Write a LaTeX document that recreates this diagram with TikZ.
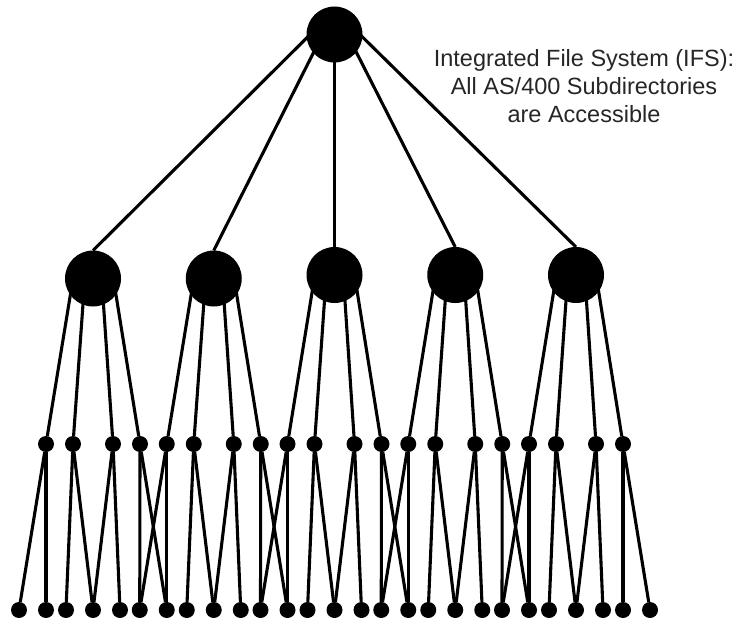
\documentclass[tikz,border=0pt]{standalone}
\usepackage{fontspec}
\setmainfont{Liberation Sans}
% Angle (in degrees, y up) at which a line coming from an apex point #1 px
% above a disc centre (radius 28 px) leaves the disc, heading towards the
% point offset by (#2, #3) px from the apex (page directions, y down).
\newcommand\trfan[3]{%
  \pgfmathsetmacro\trH{(#1)/100}%
  \pgfmathsetmacro\trX{(#2)/100}%
  \pgfmathsetmacro\trY{(#3)/100}%
  \pgfmathsetmacro\trN{\trX*\trX+\trY*\trY}%
  \pgfmathsetmacro\trT{(\trH*\trY+sqrt(max(0,\trH*\trH*\trY*\trY-\trN*(\trH*\trH-0.0784))))/\trN}%
  \pgfmathsetmacro\trAng{atan2(\trH-\trT*\trY,\trT*\trX)}%
}
\begin{document}
\begin{tikzpicture}[x=1pt,y=-1pt,
  big/.style={circle,fill=black,minimum size=56pt,inner sep=0pt,outer sep=0pt},
  dot/.style={circle,fill=black,minimum size=16pt,inner sep=0pt,outer sep=0pt},
  link/.style={line width=3.1pt},
  caption/.style={font=\fontsize{23.5}{28}\selectfont,align=center,text=black!85,inner sep=0pt}]
\useasboundingbox (0,0) rectangle (737,618);

% root directory
\node[big] (r) at (334.5,34.5) {};

% five subdirectories, each with four children and a row of leaves below
\foreach \k/\y in {1/278.5,2/278.5,3/275,4/275,5/275} {
  \pgfmathsetmacro\a{46+120.75*(\k-1)}
  \node[big] (m\k) at (\a+47,\y) {};
  \foreach \j/\o in {1/0,2/27,3/67,4/94} {
    \pgfmathtruncatemacro\n{4*(\k-1)+\j}
    \node[dot] (s\n) at (\a+\o,444) {};
  }
  \foreach \j/\o in {1/-27,2/0,3/20,4/47,5/74} {
    \pgfmathtruncatemacro\n{5*(\k-1)+\j}
    \node[dot] (b\n) at (\a+\o,610) {};
  }
}
\node[dot] (b26) at (623,610) {};
\node[dot] (b27) at (650,610) {};

% connectors: each fan of lines points back to an apex above its parent
\foreach \k/\y in {1/278.5,2/278.5,3/275,4/275,5/275} {
  \pgfmathsetmacro\a{46+120.75*(\k-1)}
  \trfan{24.5}{\a+47-334.5}{\y-28-10}
  \draw[link,shorten <=-3pt] (r.\trAng) -- (m\k.north);
  \foreach \j/\o/\p/\q in {1/0/-4/-3,2/27/-2/-1,3/67/-1/0,4/94/1/2} {
    \pgfmathtruncatemacro\n{4*(\k-1)+\j}
    \pgfmathtruncatemacro\u{5*\k+\p}
    \pgfmathtruncatemacro\v{5*\k+\q}
    \trfan{122.3}{\o-47}{444-\y+122.3}
    \draw[link,shorten <=-3pt] (m\k.\trAng) -- (s\n);
    \draw[link] (s\n) -- (b\u);
    \draw[link] (s\n) -- (b\v);
  }
}

\node[caption,anchor=north] (lbl) at (584,49) {Integrated File System (IFS):\\All AS/400 Subdirectories\\are Accessible};
\end{tikzpicture}
\end{document}
